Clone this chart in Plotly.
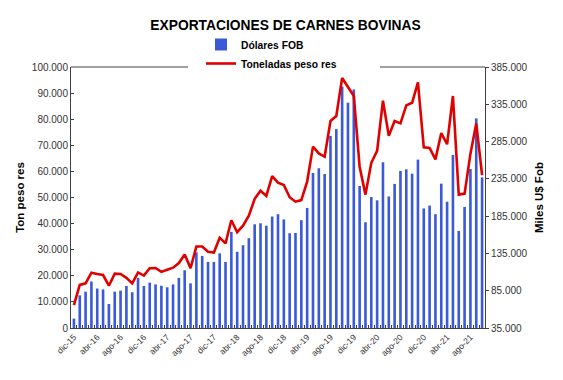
import plotly.graph_objects as go

months = [
    "dic-15",
    "ene-16", "feb-16", "mar-16", "abr-16", "may-16", "jun-16", "jul-16", "ago-16", "sep-16", "oct-16", "nov-16", "dic-16",
    "ene-17", "feb-17", "mar-17", "abr-17", "may-17", "jun-17", "jul-17", "ago-17", "sep-17", "oct-17", "nov-17", "dic-17",
    "ene-18", "feb-18", "mar-18", "abr-18", "may-18", "jun-18", "jul-18", "ago-18", "sep-18", "oct-18", "nov-18", "dic-18",
    "ene-19", "feb-19", "mar-19", "abr-19", "may-19", "jun-19", "jul-19", "ago-19", "sep-19", "oct-19", "nov-19", "dic-19",
    "ene-20", "feb-20", "mar-20", "abr-20", "may-20", "jun-20", "jul-20", "ago-20", "sep-20", "oct-20", "nov-20", "dic-20",
    "ene-21", "feb-21", "mar-21", "abr-21", "may-21", "jun-21", "jul-21", "ago-21", "sep-21", "oct-21",
]

tick_labels = ["dic-15", "abr-16", "ago-16", "dic-16", "abr-17", "ago-17", "dic-17", "abr-18", "ago-18",
               "dic-18", "abr-19", "ago-19", "dic-19", "abr-20", "ago-20", "dic-20", "abr-21", "ago-21"]

# Miles U$ FOB (right axis)
dolares_fob = [
    47600,
    78800, 83700, 97300, 87900, 86800, 67200, 83700, 85100, 91400, 83000, 102200, 91400,
    95900, 93500, 91700, 89600, 93500, 102200, 112400, 94900, 136500, 131600, 123600, 123600,
    135100, 123600, 163800, 137200, 146000, 155400, 174000, 175400, 172200, 184500, 187600, 180600,
    162100, 162400, 179600, 196000, 242900, 249200, 241500, 292600, 301700, 358800, 337100, 354900,
    225400, 176800, 210700, 206200, 257300, 211400, 228200, 245700, 247800, 241900, 260800, 195300,
    199200, 187600, 228600, 204400, 267100, 165200, 197400, 248200, 316100, 237000,
]

# Toneladas peso res (left axis)
toneladas = [
    8800,
    16500, 17100, 21200, 20700, 20300, 16200, 20800, 20700, 19200, 17100, 21300, 20100,
    22900, 23000, 21500, 22300, 23100, 24900, 28200, 22900, 31200, 31200, 29200, 28900,
    34600, 32400, 41300, 36700, 39200, 43000, 49500, 52600, 50600, 58200, 55700, 54800,
    50100, 48400, 49000, 56100, 69500, 66900, 65600, 79300, 81200, 95800, 92100, 88900,
    61800, 51100, 63300, 67900, 87100, 73600, 79300, 78400, 85300, 86300, 94100, 69200,
    69000, 64600, 74700, 70400, 88900, 51100, 51500, 66700, 78400, 58600,
]

ticktext = [m if m in tick_labels else "" for m in months]

# the page body has an 8px default margin, so the figure is sized to fit the window
W, H = 555, 372
PL, PT, PW, PH = 63, 59, 414, 261

fig = go.Figure()
fig.add_trace(go.Bar(
    x=months, y=dolares_fob, name="<b>Dólares FOB</b>",
    marker=dict(color="#3A5AD8", line=dict(width=0)),
    yaxis="y",
))
fig.add_trace(go.Scatter(
    x=months, y=toneladas, name="<b>Toneladas peso res</b>",
    mode="lines", line=dict(color="#E00000", width=2.6),
    yaxis="y2",
))

axis_font = dict(family="Liberation Sans, Arial, sans-serif", size=10, color="#333333")

fig.update_layout(
    width=W, height=H,
    margin=dict(l=PL, r=W - PL - PW, t=PT, b=H - PT - PH, autoexpand=False),
    paper_bgcolor="white", plot_bgcolor="white",
    separators=",.",
    bargap=0.55,
    font=dict(family="Liberation Sans, Arial, sans-serif", color="#000000"),
    title=dict(text="<b>EXPORTACIONES DE CARNES BOVINAS</b>", x=0.5, xanchor="center",
               y=1 - 17 / H, yanchor="middle",
               font=dict(size=13.8, color="#000000")),
    showlegend=True,
    legend=dict(x=(193 - PL) / PW, xanchor="left", y=1 + (PT - 22) / PH, yanchor="top",
                bgcolor="rgba(0,0,0,0)", font=dict(size=10.3, color="#000000"),
                traceorder="normal", itemwidth=30, tracegroupgap=0),
    xaxis=dict(
        type="category", tickmode="array", tickvals=months, ticktext=ticktext,
        tickangle=-45, tickfont=dict(family="Liberation Sans, Arial, sans-serif", size=8.5, color="#333333"),
        showline=True, linecolor="#404040", linewidth=1,
        ticks="inside", ticklen=3, tickcolor="#404040", tickson="boundaries",
        showgrid=False, zeroline=False,
    ),
    yaxis=dict(
        side="right", range=[35000, 385000], tick0=35000, dtick=50000, tickformat=",d",
        tickfont=axis_font, showline=True, linecolor="#404040", linewidth=1,
        ticks="outside", ticklen=3, tickcolor="#404040",
        showgrid=False, zeroline=False,
        title=dict(text="<b>Miles U$ Fob</b>", standoff=8,
                   font=dict(size=11.5, color="#000000")),
    ),
    yaxis2=dict(
        overlaying="y", side="left", range=[0, 100000], dtick=10000, tickformat=",d",
        tickfont=axis_font, showline=True, linecolor="#404040", linewidth=1,
        ticks="inside", ticklen=3, tickcolor="#404040",
        showgrid=False, zeroline=False,
        title=dict(text="<b>Ton peso res</b>", standoff=4,
                   font=dict(size=11.5, color="#000000")),
    ),
    shapes=[
        dict(type="line", xref="paper", yref="paper", x0=0, x1=(180 - PL) / PW, y0=1, y1=1,
             line=dict(color="#404040", width=1)),
        dict(type="line", xref="paper", yref="paper", x0=(372 - PL) / PW, x1=1, y0=1, y1=1,
             line=dict(color="#404040", width=1)),
    ],
)

fig.write_html("out.html")
